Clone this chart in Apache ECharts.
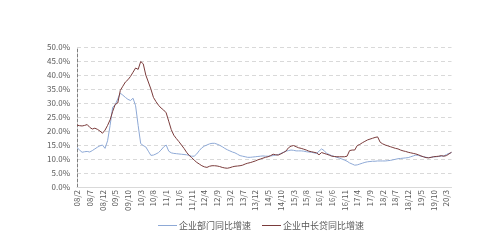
<!DOCTYPE html>
<html>
<head>
<meta charset="utf-8">
<script src="https://cdn.jsdelivr.net/npm/echarts@6/dist/echarts.min.js"></script>
<style>
  html, body { margin: 0; padding: 0; background: #fff; }
  #box { width: 500px; height: 249px; }
</style>
</head>
<body>
<div id="box"></div>
<script>
// 月份：08/2 ~ 20/5
var months = [];
for (var y = 2008; y <= 2020; y++) {
    for (var m = 1; m <= 12; m++) {
        if (y === 2008 && m < 2) continue;
        if (y === 2020 && m > 5) break;
        months.push(String(y).slice(2) + '/' + m);
    }
}

// 企业部门同比增速 (%)
var corpGrowth = [
    14.1, 13.2, 12.4, 12.6, 12.7, 12.5, 13.0, 13.6, 14.2, 14.7,
    15.0, 13.8, 16.5, 22.0, 28.5, 29.3, 31.5, 33.5, 32.8, 32.0,
    31.3, 30.9, 31.7, 29.0, 22.0, 15.5, 14.8, 14.3, 12.8, 11.3,
    11.4, 11.8, 12.3, 13.2, 14.3, 15.0, 12.8, 12.2, 12.0, 11.9,
    11.8, 11.7, 11.6, 11.5, 11.3, 11.0, 11.0, 11.8, 13.0, 14.0,
    14.6, 15.0, 15.4, 15.6, 15.6, 15.3, 14.9, 14.4, 13.8, 13.3,
    12.9, 12.5, 12.2, 11.7, 11.2, 11.0, 10.8, 10.6, 10.6, 10.7,
    10.8, 10.9, 11.0, 11.1, 11.0, 11.0, 11.1, 11.2, 11.4, 11.6,
    12.0, 12.4, 12.8, 13.0, 13.2, 13.1, 12.9, 12.9, 12.9, 12.8,
    12.6, 12.5, 12.4, 12.2, 12.0, 12.8, 13.6, 13.0, 12.0, 11.6,
    11.2, 10.9, 10.6, 10.3, 10.0, 9.6, 9.2, 8.6, 8.2, 7.8,
    7.9, 8.2, 8.5, 8.8, 9.0, 9.1, 9.2, 9.2, 9.3, 9.3,
    9.3, 9.3, 9.4, 9.5, 9.7, 9.9, 10.1, 10.2, 10.3, 10.4,
    10.5, 10.8, 11.1, 11.4, 11.3, 11.0, 10.8, 10.6, 10.5, 10.6,
    10.8, 10.8, 10.9, 11.0, 11.1, 11.6, 12.0, 12.3
];

// 企业中长贷同比增速 (%)
var loanGrowth = [
    22.1, 21.9, 21.8, 22.0, 22.3, 21.3, 20.7, 21.0, 20.6, 20.0,
    19.2, 20.3, 22.0, 24.0, 27.0, 29.5, 30.0, 34.5, 36.0, 37.5,
    38.3, 39.5, 41.0, 42.5, 42.0, 44.8, 44.0, 40.0, 37.5, 35.0,
    32.0, 30.5, 29.2, 28.2, 27.5, 26.5, 23.5, 20.5, 18.5, 17.3,
    16.2, 15.0, 13.8, 12.4, 11.3, 10.5, 9.6, 8.8, 8.2, 7.6,
    7.2, 7.0, 7.4, 7.6, 7.6, 7.5, 7.3, 7.0, 6.8, 6.7,
    6.9, 7.2, 7.4, 7.5, 7.6, 7.8, 8.2, 8.5, 8.7, 9.0,
    9.3, 9.7, 10.0, 10.3, 10.6, 10.8, 11.2, 11.7, 11.5, 11.4,
    11.8, 12.3, 12.8, 14.0, 14.6, 14.8, 14.4, 14.0, 13.8, 13.5,
    13.2, 12.8, 12.6, 12.4, 12.2, 11.5, 12.3, 12.0, 11.7, 11.4,
    11.0, 10.9, 10.8, 10.8, 10.8, 10.8, 11.0, 13.0, 13.2, 13.2,
    14.8, 15.2, 15.8, 16.3, 16.8, 17.1, 17.4, 17.7, 17.9, 16.0,
    15.4, 15.0, 14.7, 14.4, 14.1, 13.8, 13.6, 13.2, 12.9, 12.7,
    12.4, 12.2, 12.0, 11.8, 11.5, 11.1, 10.8, 10.5, 10.4, 10.6,
    10.8, 10.9, 11.0, 11.2, 11.0, 11.2, 11.8, 12.4
];

var txtColor = '#595959';
var font = '"Noto Sans CJK SC", "Noto Sans", sans-serif';

var chart = echarts.init(document.getElementById('box'));
chart.setOption({
    animation: false,
    textStyle: { fontFamily: font },
    grid: { left: 77, top: 47, width: 374.5, height: 140, containLabel: false },
    legend: {
        bottom: 14,
        left: 153,
        itemWidth: 19,
        itemHeight: 1,
        itemGap: 11,
        icon: 'rect',
        textStyle: { fontSize: 9, color: txtColor, fontFamily: font, padding: [0, 0, 0, -3] },
        data: ['企业部门同比增速', '企业中长贷同比增速']
    },
    xAxis: {
        type: 'category',
        data: months,
        boundaryGap: false,
        axisLine: { lineStyle: { color: '#d9d9d9', width: 1 } },
        axisTick: { show: false },
        axisLabel: {
            interval: 4,
            rotate: 90,
            fontSize: 8,
            color: txtColor,
            margin: 3
        },
        splitLine: { show: false }
    },
    yAxis: {
        type: 'value',
        min: 0,
        max: 50,
        interval: 5,
        axisLine: { show: true, lineStyle: { color: '#7f7f7f', type: [3, 2], width: 1 } },
        axisTick: { show: false },
        axisLabel: {
            fontSize: 8,
            color: txtColor,
            margin: 7,
            formatter: function (v) { return v.toFixed(1) + '%'; }
        },
        splitLine: { lineStyle: { color: '#d9d9d9', type: [4, 3], width: 1 } }
    },
    series: [{
        name: '企业部门同比增速',
        type: 'line',
        data: corpGrowth,
        symbol: 'none',
        lineStyle: { color: '#8EA9D6', width: 1 },
        itemStyle: { color: '#8EA9D6' }
    }, {
        name: '企业中长贷同比增速',
        type: 'line',
        data: loanGrowth,
        symbol: 'none',
        lineStyle: { color: '#7A3B3B', width: 1 },
        itemStyle: { color: '#7A3B3B' }
    }]
});
</script>
</body>
</html>
